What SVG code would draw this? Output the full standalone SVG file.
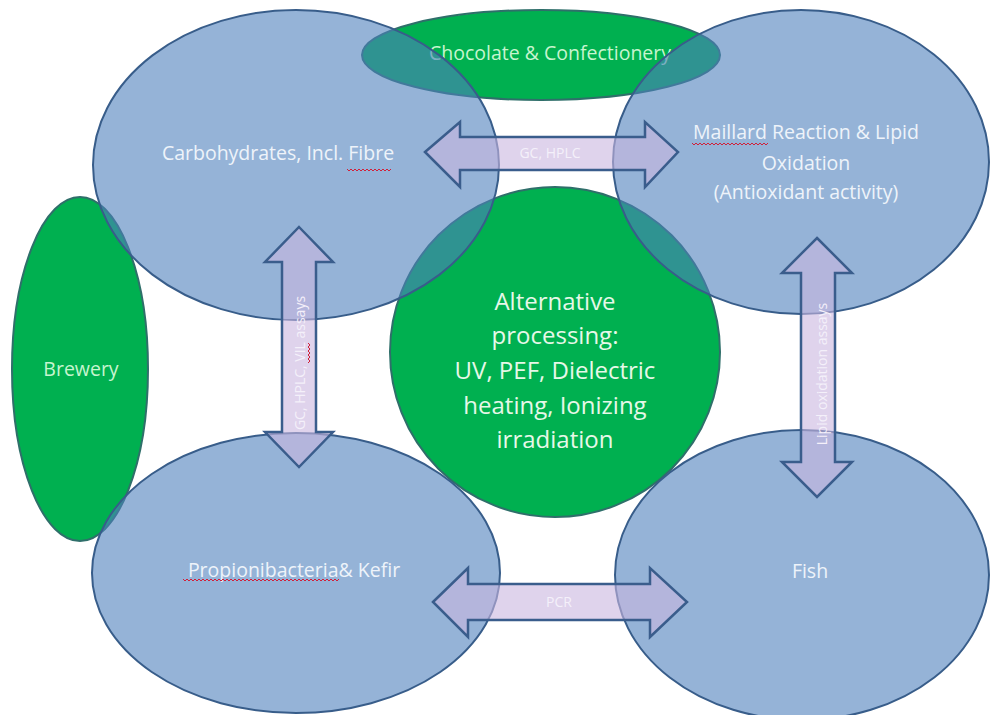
<svg xmlns="http://www.w3.org/2000/svg" width="992" height="715" viewBox="0 0 992 715">
<style>
.green{fill:#00b050;stroke:#2f6f6a;stroke-width:2}
.blue{fill:#4f81bd;fill-opacity:0.6;stroke:#385d8a;stroke-width:2}
.arrow{fill:#c9b6e0;fill-opacity:0.6;stroke:#3a5d8c;stroke-width:2.5;stroke-linejoin:miter}
.t{font-family:"Open Sans","Liberation Sans",sans-serif;text-anchor:middle}
.tb{fill:#eef3fa;font-size:19.5px}
.tg{fill:#c6f5cf;font-size:19.5px}
.tc{fill:#e6f8e8;font-size:24px}
.ta{fill:#f4f0fa;font-size:14px}
.sq{fill:none;stroke:#d0203a;stroke-width:1}
</style>
<rect width="992" height="715" fill="#ffffff"/>
<g id="chocolate">
<ellipse class="green" cx="541" cy="55" rx="179" ry="45"/>
<text class="t tg" x="550" y="60">Chocolate &amp; Confectionery</text>
</g>
<g id="brewery">
<ellipse class="green" cx="80" cy="369" rx="68" ry="172"/>
<text class="t tg" x="81" y="376">Brewery</text>
</g>
<g id="alternative">
<circle class="green" cx="555" cy="352" r="165"/>
<text class="t tc" x="555" y="310">Alternative</text>
<text class="t tc" x="555" y="344">processing:</text>
<text class="t tc" x="555" y="379">UV, PEF, Dielectric</text>
<text class="t tc" x="555" y="414">heating, Ionizing</text>
<text class="t tc" x="555" y="448">irradiation</text>
</g>
<g id="carbohydrates">
<ellipse class="blue" cx="296" cy="165" rx="203" ry="155"/>
<text class="t tb" x="278" y="160">Carbohydrates, Incl. Fibre</text>
<path class="sq" d="M347 169 l2 2 l2 -2 l2 2 l2 -2 l2 2 l2 -2 l2 2 l2 -2 l2 2 l2 -2 l2 2 l2 -2 l2 2 l2 -2 l2 2 l2 -2 l2 2 l2 -2 l2 2 l2 -2 l2 2 l2 -2"/>
</g>
<g id="maillard">
<ellipse class="blue" cx="801" cy="162" rx="188" ry="152"/>
<text class="t tb" x="806" y="139">Maillard Reaction &amp; Lipid</text>
<text class="t tb" x="806" y="170">Oxidation</text>
<text class="t tb" x="806" y="199">(Antioxidant activity)</text>
<path class="sq" d="M692 143 l2 2 l2 -2 l2 2 l2 -2 l2 2 l2 -2 l2 2 l2 -2 l2 2 l2 -2 l2 2 l2 -2 l2 2 l2 -2 l2 2 l2 -2 l2 2 l2 -2 l2 2 l2 -2 l2 2 l2 -2 l2 2 l2 -2 l2 2 l2 -2 l2 2 l2 -2 l2 2 l2 -2 l2 2 l2 -2 l2 2 l2 -2 l2 2 l2 -2 l2 2 l2 -2"/>
</g>
<g id="propionibacteria">
<ellipse class="blue" cx="296" cy="573" rx="204" ry="140"/>
<text class="t tb" x="294" y="577">Propionibacteria&amp; Kefir</text>
<path class="sq" d="M183 579 l2 2 l2 -2 l2 2 l2 -2 l2 2 l2 -2 l2 2 l2 -2 l2 2 l2 -2 l2 2 l2 -2 l2 2 l2 -2 l2 2 l2 -2 l2 2 l2 -2 l2 2 l2 -2 l2 2 l2 -2 l2 2 l2 -2 l2 2 l2 -2 l2 2 l2 -2 l2 2 l2 -2 l2 2 l2 -2 l2 2 l2 -2 l2 2 l2 -2 l2 2 l2 -2 l2 2 l2 -2 l2 2 l2 -2 l2 2 l2 -2 l2 2 l2 -2 l2 2 l2 -2 l2 2 l2 -2 l2 2 l2 -2 l2 2 l2 -2 l2 2 l2 -2 l2 2 l2 -2 l2 2 l2 -2 l2 2 l2 -2 l2 2 l2 -2 l2 2 l2 -2 l2 2 l2 -2 l2 2 l2 -2 l2 2 l2 -2 l2 2 l2 -2 l2 2 l2 -2 l2 2 l2 -2"/>
</g>
<g id="fish">
<ellipse class="blue" cx="802" cy="575" rx="187" ry="145"/>
<text class="t tb" x="810" y="578">Fish</text>
</g>
<g id="connectors">
<path class="arrow" d="M425 152 L460 122 L460 137 L645 137 L645 122 L678 152 L645 187 L645 170 L460 170 L460 187 Z"/>
<path class="arrow" d="M433 602 L468 568 L468 584 L650 584 L650 568 L687 602 L650 637 L650 620 L468 620 L468 637 Z"/>
<path class="arrow" d="M299 227 L333 262 L316 262 L316 432 L333 432 L299 467 L265 432 L282 432 L282 262 L265 262 Z"/>
<path class="arrow" d="M817 238 L852 273 L835 273 L835 462 L852 462 L817 497 L782 462 L801 462 L801 273 L782 273 Z"/>
<text class="t ta" x="550" y="158">GC, HPLC</text>
<text class="t ta" x="559" y="607">PCR</text>
<text class="t ta" transform="translate(305,363) rotate(-90)">GC, HPLC, VIL assays</text>
<path class="sq" d="M308 343 l2 2 l-2 2 l2 2 l-2 2 l2 2 l-2 2 l2 2 l-2 2 l2 2 l-2 2"/>
<text class="t ta" transform="translate(827,374) rotate(-90)">Lipid oxidation assays</text>
</g>
</svg>
